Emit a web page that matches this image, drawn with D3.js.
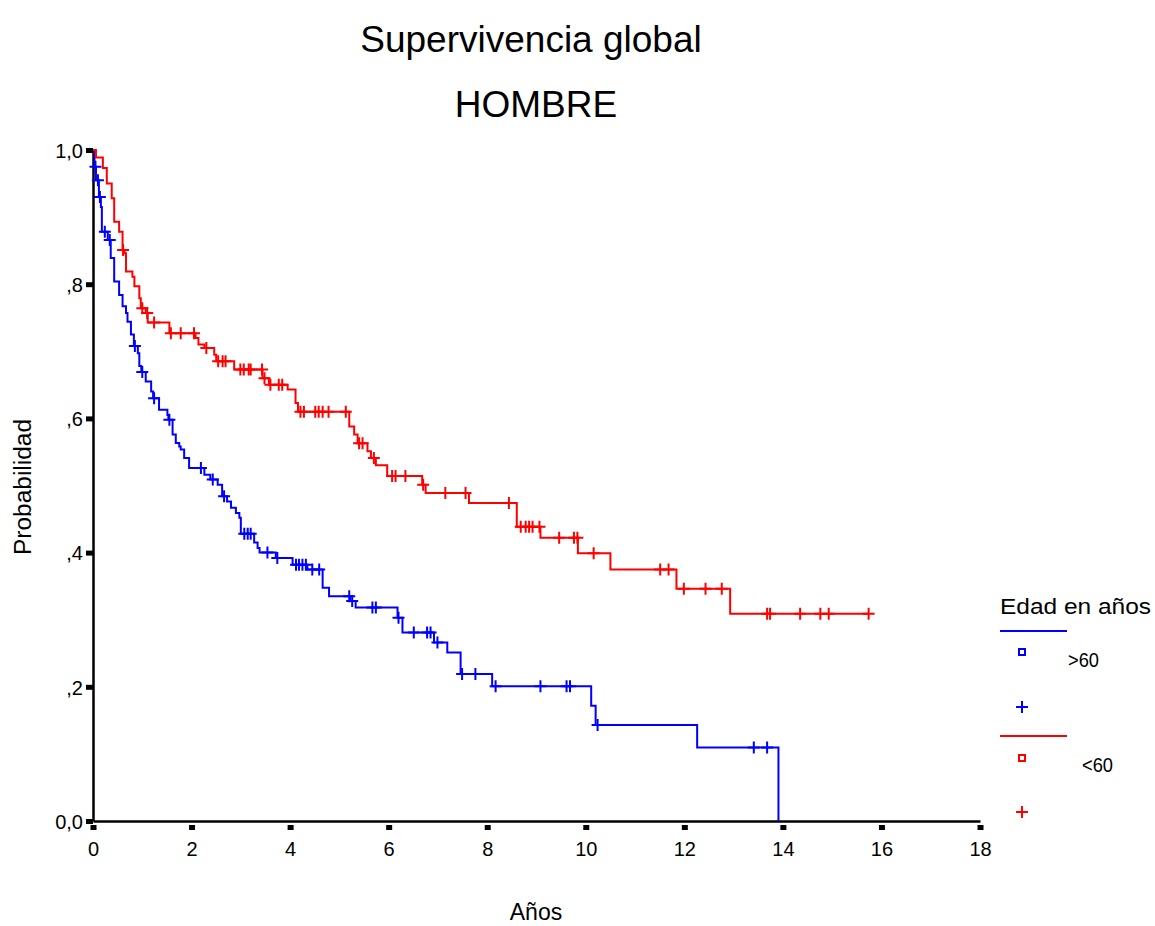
<!DOCTYPE html>
<html>
<head>
<meta charset="utf-8">
<script src="https://cdn.jsdelivr.net/npm/d3@7"></script>
<style>
  body { margin: 0; background: #fff; }
  text { font-family: "Liberation Sans", Arial, sans-serif; fill: #000; }
</style>
</head>
<body>
<div class="km-chart"></div>
<script>
// ---- data ----
var xTicks = [0, 2, 4, 6, 8, 10, 12, 14, 16, 18];
var yTicks = [0, 0.2, 0.4, 0.6, 0.8, 1];
var yTickLabels = ["0,0", ",2", ",4", ",6", ",8", "1,0"];

// >60 (blue): step times and survival after each step
var blueTimes = [0.03, 0.06, 0.12, 0.16, 0.18, 0.30, 0.36, 0.43, 0.53, 0.60, 0.67, 0.70, 0.77, 0.83, 0.91, 0.94, 0.98,
  1.07, 1.18, 1.22, 1.34, 1.51, 1.53, 1.615, 1.68, 1.75, 1.78, 1.85, 1.95, 2.26, 2.38, 2.53, 2.62, 2.72, 2.80, 2.90, 2.97,
  3.00, 3.27, 3.34, 3.38, 3.71, 4.05, 4.35, 4.66, 4.79, 5.22, 5.33, 6.18, 6.28, 6.92, 7.19, 7.46, 8.10, 10.11, 10.20, 12.26, 13.91];
var blueSurv = [0.975, 0.955, 0.930, 0.915, 0.878, 0.866, 0.839, 0.804, 0.784, 0.767, 0.757, 0.744, 0.725, 0.708, 0.697, 0.678, 0.669,
  0.655, 0.640, 0.630, 0.613, 0.605, 0.598, 0.576, 0.5635, 0.558, 0.5535, 0.541, 0.526, 0.516, 0.509, 0.501, 0.484, 0.476, 0.467, 0.459, 0.452,
  0.428, 0.415, 0.407, 0.400, 0.392, 0.382, 0.375, 0.3475, 0.335, 0.328, 0.318, 0.303, 0.281, 0.266, 0.251, 0.219, 0.201, 0.1716, 0.143, 0.1097, 0];
var blueCensored = [0.05, 0.10, 0.14, 0.24, 0.34, 0.85, 1.00, 1.24, 1.55, 2.19, 2.43, 2.66, 3.07, 3.14, 3.20, 3.54, 3.74,
  4.12, 4.18, 4.25, 4.32, 4.45, 4.59, 5.20, 5.26, 5.67, 5.74, 6.20, 6.51, 6.78, 6.85, 6.99, 7.49, 7.76,
  8.17, 9.08, 9.61, 9.68, 10.24, 13.41, 13.68];
var blueEnd = 13.91;

// <60 (red)
var redTimes = [0.06, 0.20, 0.28, 0.38, 0.43, 0.53, 0.60, 0.64, 0.67, 0.80, 0.84, 0.94, 0.97, 1.07, 1.11, 1.55,
  2.08, 2.14, 2.26, 2.46, 2.50, 2.865, 3.44, 3.57, 3.95, 4.11, 4.16, 5.20, 5.30, 5.37, 5.57, 5.64, 5.74, 5.97,
  6.68, 6.75, 7.63, 8.60, 9.08, 9.84, 10.50, 11.84, 12.93];
var redSurv = [0.989, 0.973, 0.950, 0.928, 0.893, 0.878, 0.851, 0.846, 0.819, 0.811, 0.797, 0.779, 0.764, 0.757, 0.743, 0.727,
  0.720, 0.710, 0.705, 0.695, 0.685, 0.673, 0.660, 0.650, 0.643, 0.623, 0.610, 0.588, 0.576, 0.563, 0.551, 0.541, 0.530, 0.514,
  0.501, 0.489, 0.474, 0.4385, 0.422, 0.399, 0.375, 0.346, 0.309];
var redCensored = [0.61, 1.00, 1.10, 1.24, 1.58, 1.78, 2.05, 2.30, 2.54, 2.63, 2.69, 2.99, 3.06, 3.16, 3.20, 3.43, 3.48,
  3.60, 3.77, 3.84, 4.21, 4.28, 4.51, 4.58, 4.66, 4.78, 5.13, 5.40, 5.47, 5.70, 6.07, 6.14, 6.34, 6.70, 7.15, 7.56,
  8.44, 8.68, 8.78, 8.85, 8.92, 9.06, 9.46, 9.76, 9.83, 10.16, 11.51, 11.68, 11.99, 12.43, 12.76,
  13.68, 13.74, 14.35, 14.76, 14.93, 15.74];
var redEnd = 15.75;

var W = 1155, H = 926;
var svg = d3.select(".km-chart").append("svg").attr("width", W).attr("height", H);

var x = d3.scaleLinear().domain([0, 18]).range([93, 980]);
var y = d3.scaleLinear().domain([0, 1]).range([821, 150]);

// titles
svg.append("text").attr("x", 531).attr("y", 52).attr("text-anchor", "middle")
  .style("font-size", "37px").text("Supervivencia global");
svg.append("text").attr("x", 536).attr("y", 117).attr("text-anchor", "middle")
  .style("font-size", "37px").text("HOMBRE");

// axes
var yAxis = svg.append("g").attr("transform", `translate(${x(0)},0)`)
  .call(d3.axisLeft(y).tickValues(yTicks).tickSizeInner(7).tickSizeOuter(0).tickPadding(3)
    .tickFormat((d, i) => yTickLabels[i]));
yAxis.select(".domain").attr("stroke", "#000").attr("stroke-width", 2.5);
yAxis.selectAll(".tick line").attr("stroke", "#000").attr("stroke-width", 5);
yAxis.selectAll(".tick text").style("font-size", "20px").attr("dy", "0.36em");

var xAxis = svg.append("g").attr("transform", `translate(0,${y(0)})`)
  .call(d3.axisBottom(x).tickValues(xTicks).tickSizeInner(9).tickSizeOuter(0).tickFormat(d3.format("d")));
xAxis.select(".domain").attr("stroke", "#000").attr("stroke-width", 2.5);
xAxis.selectAll(".tick line").attr("stroke", "#000").attr("stroke-width", 6).attr("y1", 4);
xAxis.selectAll(".tick text").style("font-size", "20px").attr("y", 35).attr("dy", 0);

// axis titles
svg.append("text").attr("transform", "translate(31,487) rotate(-90)").attr("text-anchor", "middle")
  .style("font-size", "23px").attr("textLength", 136).attr("lengthAdjust", "spacingAndGlyphs").text("Probabilidad");
svg.append("text").attr("x", 536).attr("y", 920).attr("text-anchor", "middle")
  .style("font-size", "23px").text("Años");

// survival curves
var line = d3.line().x(d => x(d[0])).y(d => y(d[1])).curve(d3.curveStepAfter);
function curvePoints(times, surv, end) {
  var pts = [[0, 1]];
  times.forEach((t, i) => pts.push([t, surv[i]]));
  pts.push([end, surv[surv.length - 1]]);
  return pts;
}
function levelAt(times, surv, t) {
  var i = d3.bisectRight(times, t);
  return i === 0 ? 1 : surv[i - 1];
}
var plus = "M-6,0H6M0,-6V6";

function drawGroup(times, surv, censored, end, color) {
  var g = svg.append("g");
  g.append("path").datum(curvePoints(times, surv, end))
    .attr("fill", "none").attr("stroke", color).attr("stroke-width", 2).attr("d", line);
  g.selectAll(".cens").data(censored).enter().append("path")
    .attr("class", "cens")
    .attr("transform", d => `translate(${x(d)},${y(levelAt(times, surv, d))})`)
    .attr("d", plus).attr("fill", "none").attr("stroke", color).attr("stroke-width", 2);
}
drawGroup(blueTimes, blueSurv, blueCensored, blueEnd, "#0000ff");
drawGroup(redTimes, redSurv, redCensored, redEnd, "#ff0000");

// legend
var leg = svg.append("g");
leg.append("text").attr("x", 1000).attr("y", 614).style("font-size", "22px")
  .attr("textLength", 151).attr("lengthAdjust", "spacingAndGlyphs").text("Edad en años");
var legendRows = [
  { color: "#0000ff", label: ">60", lineY: 631, sqY: 652, textX: 1068, textY: 667, plusY: 707 },
  { color: "#ff0000", label: "<60", lineY: 736, sqY: 758, textX: 1082, textY: 772, plusY: 812 }
];
legendRows.forEach(r => {
  leg.append("line").attr("x1", 1000).attr("x2", 1067).attr("y1", r.lineY).attr("y2", r.lineY)
    .attr("stroke", r.color).attr("stroke-width", 2);
  leg.append("rect").attr("x", 1019).attr("y", r.sqY - 3).attr("width", 6).attr("height", 6)
    .attr("fill", "none").attr("stroke", r.color).attr("stroke-width", 2);
  leg.append("text").attr("x", r.textX).attr("y", r.textY).style("font-size", "20px")
    .attr("textLength", 31).attr("lengthAdjust", "spacingAndGlyphs").text(r.label);
  leg.append("path").attr("transform", `translate(1022,${r.plusY})`).attr("d", plus)
    .attr("fill", "none").attr("stroke", r.color).attr("stroke-width", 2);
});
</script>
</body>
</html>
